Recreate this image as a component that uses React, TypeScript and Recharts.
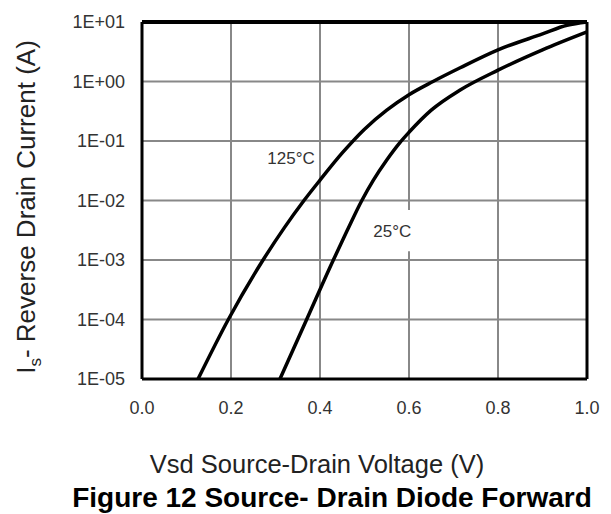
import {
  CartesianGrid,
  Line,
  LineChart,
  ReferenceArea,
  ReferenceLine,
  XAxis,
  YAxis,
} from 'recharts'

// Vsd (V) and Is (A)
const vsd125 = [0.126, 0.194, 0.272, 0.32, 0.364, 0.4, 0.45, 0.5, 0.55, 0.6, 0.654, 0.715, 0.8, 0.9, 0.955, 1.0]
const is125 = [1e-5, 1e-4, 1e-3, 3.5e-3, 1e-2, 2.2e-2, 6.3e-2, 0.158, 0.33, 0.6, 1.0, 1.7, 3.4, 6.3, 8.8, 10]

const vsd25 = [0.31, 0.37, 0.43, 0.46, 0.494, 0.52, 0.55, 0.58, 0.6, 0.65, 0.715, 0.8, 0.9, 1.0]
const is25 = [1e-5, 1e-4, 1e-3, 3e-3, 1e-2, 2.2e-2, 4.8e-2, 9.5e-2, 0.14, 0.33, 0.72, 1.55, 3.4, 6.8]

const xTicks = [0, 0.2, 0.4, 0.6, 0.8, 1.0]
const yTicks = [1e-5, 1e-4, 1e-3, 1e-2, 1e-1, 1, 10]

const FONT = 'Arial, "Liberation Sans", sans-serif'

const s125 = vsd125.map((v, k) => ({ v, i: is125[k] }))
const s25 = vsd25.map((v, k) => ({ v, i: is25[k] }))

function sci(val: number): string {
  const e = Math.round(Math.log10(val))
  return `1E${e < 0 ? '-' : '+'}${String(Math.abs(e)).padStart(2, '0')}`
}

export default function App() {
  return (
    <div style={{ position: 'absolute', left: 0, top: 0, width: 611, height: 514, background: '#fff', fontFamily: FONT }}>
      <LineChart width={611} height={430} margin={{ top: 22, right: 24, left: 42, bottom: 0 }}>
        <CartesianGrid stroke="#888" strokeWidth={2} />
        <XAxis
          dataKey="v"
          type="number"
          domain={[0, 1]}
          ticks={xTicks}
          tickFormatter={(v: number) => v.toFixed(1)}
          height={51}
          tickSize={0}
          tickMargin={22}
          axisLine={{ stroke: '#000', strokeWidth: 3 }}
          tick={{ fontSize: 18, fill: '#333', fontFamily: FONT }}
          allowDuplicatedCategory={false}
        />
        <YAxis
          scale="log"
          domain={[1e-5, 10]}
          ticks={yTicks}
          allowDataOverflow
          tickFormatter={sci}
          width={100}
          tickSize={0}
          tickMargin={17}
          axisLine={{ stroke: '#000', strokeWidth: 3 }}
          tick={{ fontSize: 18, fill: '#333', fontFamily: FONT }}
        />
        <ReferenceLine y={10} stroke="#000" strokeWidth={4} />
        <ReferenceLine x={1} stroke="#000" strokeWidth={3} />
        <ReferenceArea
          x1={0.52}
          x2={0.605}
          y1={0.0014}
          y2={0.0069}
          fill="#fff"
          fillOpacity={1}
          stroke="none"
          label={{ value: '25°C', position: 'center', fontSize: 17, fill: '#333', fontFamily: FONT }}
        />
        <ReferenceArea
          x1={0.275}
          x2={0.395}
          y1={0.03}
          y2={0.09}
          fill="none"
          stroke="none"
          label={{ value: '125°C', position: 'center', fontSize: 17, fill: '#333', fontFamily: FONT }}
        />
        <Line
          data={s125}
          dataKey="i"
          type="monotone"
          stroke="#000"
          strokeWidth={3.5}
          dot={false}
          isAnimationActive={false}
        />
        <Line
          data={s25}
          dataKey="i"
          type="monotone"
          stroke="#000"
          strokeWidth={3.5}
          dot={false}
          isAnimationActive={false}
        />
      </LineChart>
      <svg width={611} height={514} style={{ position: 'absolute', left: 0, top: 0, pointerEvents: 'none' }}>
        <text transform="translate(35,207) rotate(-90)" textAnchor="middle" fontSize={26} fill="#222" fontFamily={FONT}>
          I<tspan dy={6} fontSize={17}>s</tspan>
          <tspan dy={-6}>- Reverse Drain Current (A)</tspan>
        </text>
        <text x={317} y={473} textAnchor="middle" fontSize={25.5} fill="#222" fontFamily={FONT}>
          Vsd Source-Drain Voltage (V)
        </text>
        <text x={332} y={507} textAnchor="middle" fontSize={28} fontWeight="bold" fill="#000" fontFamily={FONT}>
          Figure 12 Source- Drain Diode Forward
        </text>
      </svg>
    </div>
  )
}
